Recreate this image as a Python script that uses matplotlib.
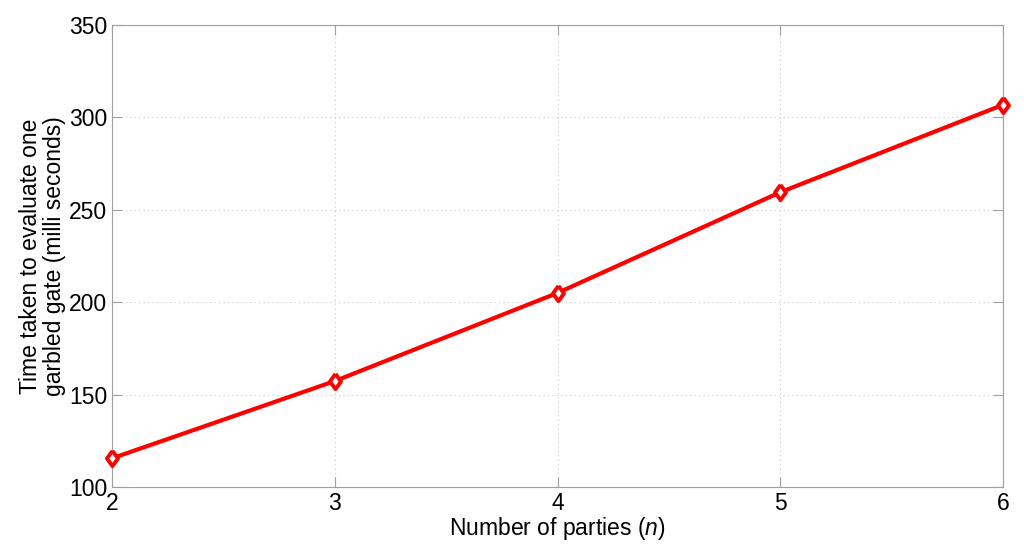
import matplotlib
matplotlib.use("Agg")
import matplotlib.pyplot as plt

parties = [2, 3, 4, 5, 6]
times = [115.5, 157.3, 205.0, 259.5, 306.8]
xticks = [2, 3, 4, 5, 6]
yticks = [100, 150, 200, 250, 300, 350]

plt.rcParams['font.family'] = ['Liberation Sans', 'DejaVu Sans']
plt.rcParams['mathtext.fontset'] = 'custom'
plt.rcParams['mathtext.it'] = 'Liberation Sans:italic'
plt.rcParams['mathtext.rm'] = 'Liberation Sans'

diamond = [(0, 1), (0.72, 0), (0, -1), (-0.72, 0), (0, 1)]

fig = plt.figure(figsize=(10.24, 5.52), dpi=100)
ax = fig.add_axes([0.1094, 0.1178, 0.8701, 0.8369])
ax.plot(parties, times, color='red', lw=3, marker=diamond, markersize=11,
        markerfacecolor='white', markeredgecolor='red', markeredgewidth=2.8,
        clip_on=False, zorder=5)
ax.set_xlim(2, 6)
ax.set_ylim(100, 350)
ax.set_xticks(xticks)
ax.set_yticks(yticks)
ax.grid(True, linestyle=(0, (1, 3)), color='#c8c8c8', lw=0.8)
for s in ax.spines.values():
    s.set_color('#a0a0a0')
ax.tick_params(direction='in', colors='#a0a0a0', labelcolor='black',
               labelsize=16.5, top=True, right=True, length=7)
ax.set_xlabel('Number of parties ($n$)', fontsize=16.5, labelpad=0)
ax.set_ylabel('Time taken to evaluate one\ngarbled gate (milli seconds)', fontsize=16.5, labelpad=2,
              linespacing=1.05)
fig.savefig('out.png', dpi=100)
